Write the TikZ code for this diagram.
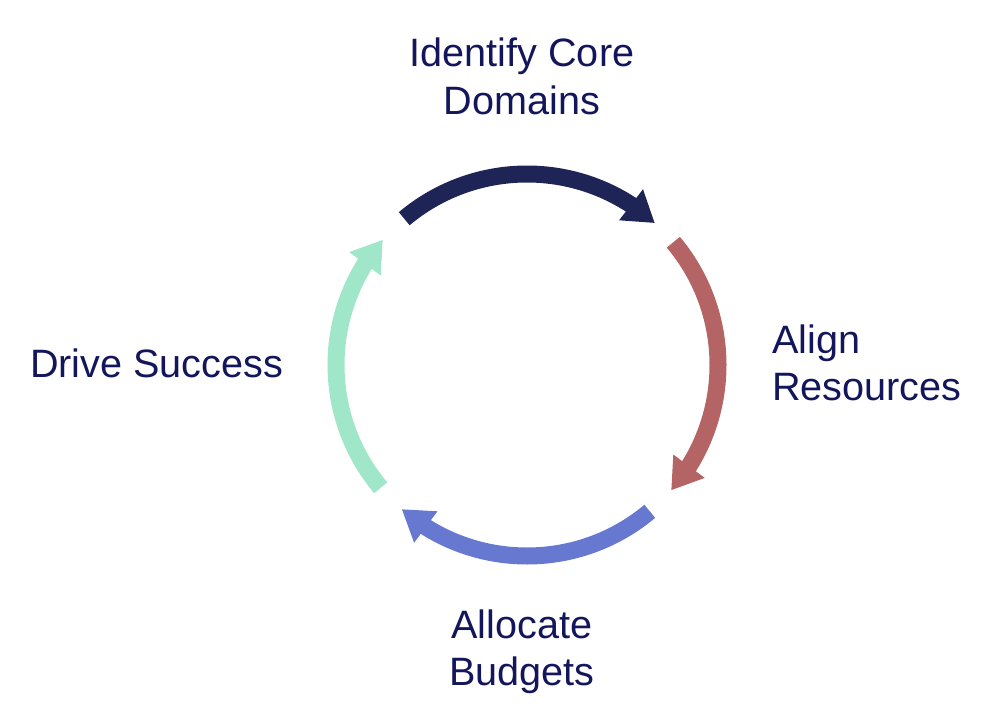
\documentclass[tikz,border=0pt]{standalone}
\usepackage{fontspec}
\setmainfont{Liberation Sans}
\usetikzlibrary{arrows.meta,bending}
\definecolor{txtcol}{HTML}{13165A}
\definecolor{topcol}{HTML}{1F2457}
\definecolor{rightcol}{HTML}{B46464}
\definecolor{botcol}{HTML}{6778D0}
\definecolor{leftcol}{HTML}{A0E6C8}
\begin{document}
\begin{tikzpicture}[x=1pt,y=-1pt,
  cyclearrow/.style={line width=17pt,-{Triangle[length=30pt,width=37pt]}},
  lbl/.style={inner sep=0pt,text=txtcol,font=\fontsize{39.6}{47.5}\selectfont}]
\useasboundingbox (0,0) rectangle (1008,725);
\coordinate (c) at (527,365);
\draw[cyclearrow,topcol] ([shift={(-130:191)}]c) arc[start angle=-130,end angle=-48,radius=191];
\draw[cyclearrow,rightcol] ([shift={(-40:191)}]c) arc[start angle=-40,end angle=41,radius=191];
\draw[cyclearrow,botcol] ([shift={(50:191)}]c) arc[start angle=50,end angle=131,radius=191];
\draw[cyclearrow,leftcol] ([shift={(140:191)}]c) arc[start angle=140,end angle=221,radius=191];
\node[lbl,anchor=base] (id1) at (522,66.7) {Identify Core};
\node[lbl,anchor=base] (id2) at (522,114) {Domains};
\node[lbl,anchor=base west] (al1) at (772,353) {Align};
\node[lbl,anchor=base west] (al2) at (772,400) {Resources};
\node[lbl,anchor=base] (bu1) at (522,638) {Allocate};
\node[lbl,anchor=base] (bu2) at (522,685) {Budgets};
\node[lbl,anchor=base west] (dr) at (30,377) {Drive Success};
\end{tikzpicture}
\end{document}
